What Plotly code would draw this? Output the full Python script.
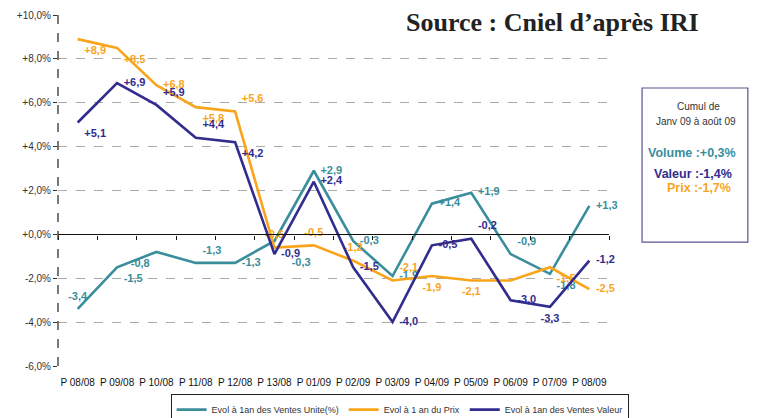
import plotly.graph_objects as go

categories = ["P 08/08", "P 09/08", "P 10/08", "P 11/08", "P 12/08", "P 13/08", "P 01/09",
              "P 02/09", "P 03/09", "P 04/09", "P 05/09", "P 06/09", "P 07/09", "P 08/09"]
unite = [-3.4, -1.5, -0.8, -1.3, -1.3, -0.3, 2.9, -0.3, -1.9, 1.4, 1.9, -0.9, -1.8, 1.3]
prix = [8.9, 8.5, 6.8, 5.8, 5.6, -0.6, -0.5, -1.2, -2.1, -1.9, -2.1, -2.1, -1.5, -2.5]
valeur = [5.1, 6.9, 5.9, 4.4, 4.2, -0.9, 2.4, -1.5, -4.0, -0.5, -0.2, -3.0, -3.3, -1.2]
y_ticks = [-6, -4, -2, 0, 2, 4, 6, 8, 10]
series_names = ["Evol à 1an des Ventes Unite(%)", "Evol à 1 an du Prix", "Evol à 1an des Ventes Valeur"]

TEAL = "#3a8e9c"
ORANGE = "#f9a51c"
NAVY = "#312c8e"


def fmt(v):
    return f"{v:+.1f}".replace(".", ",")


def ytick(v):
    return f"{v:+.1f}%".replace(".", ",")


pos_unite = ["top center", "bottom right", "bottom left", "top right", "middle right", "bottom right",
             "middle right", "middle right", "middle right", "middle right", "middle right", "top right",
             "bottom right", "middle right"]
pos_prix = ["bottom right", "bottom right", "middle right", "bottom right", "top right", "top center",
            "top center", "top center", "top right", "bottom center", "bottom center", "bottom center",
            "bottom right", "middle right"]
pos_valeur = ["bottom right", "middle right", "top right", "top right", "bottom right", "middle right",
              "middle right", "middle right", "middle right", "middle right", "top right", "middle right",
              "bottom center", "middle right"]

# invisible marker sizes: they only control the label offset from each point
gap_unite = [9, 9, 9, 9, 9, 26, 9, 9, 9, 9, 9, 9, 9, 9]
gap_prix = [9] * 14
gap_valeur = [9] * 14

text_prix = [fmt(v) for v in prix]
text_prix[11] = ""

fig = go.Figure()
lab_font = dict(family="Liberation Sans, Arial", size=11, weight="bold")
series = [
    (unite, series_names[0], TEAL, [fmt(v) for v in unite], pos_unite, gap_unite),
    (prix, series_names[1], ORANGE, text_prix, pos_prix, gap_prix),
    (valeur, series_names[2], NAVY, [fmt(v) for v in valeur], pos_valeur, gap_valeur),
]
for vals, name, col, txt, pos, gap in series:
    fig.add_trace(go.Scatter(x=categories, y=vals, name=name, mode="lines+markers+text",
                             line=dict(color=col, width=2.6),
                             marker=dict(size=gap, color="rgba(0,0,0,0)", opacity=0,
                                         line=dict(width=0, color="rgba(0,0,0,0)")),
                             text=txt, textposition=pos,
                             textfont=dict(color=col, **lab_font), cliponaxis=False))
# invisible trace for the zero-crossing category axis (tick marks)
fig.add_trace(go.Scatter(x=categories, y=[None] * len(categories), xaxis="x2", showlegend=False,
                         hoverinfo="skip", mode="lines"))

zero_pos = (0 - y_ticks[0]) / (y_ticks[-1] - y_ticks[0])

# page body has an 8px default margin -> figure is 8px smaller and shifted
fig.update_layout(
    width=749, height=410,
    margin=dict(l=50, r=148, t=7, b=52, autoexpand=False),
    plot_bgcolor="white", paper_bgcolor="white",
    font=dict(family="Liberation Sans, Arial", color="#333"),
    xaxis=dict(type="category", categoryorder="array", categoryarray=categories,
               range=[-0.5, 13.5], showgrid=False, showline=False, ticks="",
               tickfont=dict(size=10, color="#111"), ticklabelstandoff=9),
    xaxis2=dict(type="category", categoryorder="array", categoryarray=categories,
                range=[-0.5, 13.5], overlaying="x", anchor="free", position=zero_pos,
                showline=True, linecolor="#111", linewidth=1.3, ticks="outside",
                tickson="boundaries", ticklen=4, tickcolor="#111", showticklabels=False,
                showgrid=False),
    yaxis=dict(range=[y_ticks[0], y_ticks[-1]], tickvals=y_ticks,
               ticktext=[ytick(v) for v in y_ticks], showgrid=True, gridcolor="#aaaaaa",
               griddash="dash", gridwidth=1, zeroline=False, ticks="outside", ticklen=4,
               tickcolor="#333", tickfont=dict(size=10, color="#333"), showline=False),
    legend=dict(orientation="h", x=0.62, xanchor="center", y=-0.08, yanchor="top",
                bordercolor="#222", borderwidth=1, font=dict(size=9, color="#333"),
                itemwidth=30, tracegroupgap=0),
    showlegend=True,
)

# dashed vertical axis line
fig.add_shape(type="line", xref="paper", yref="paper", x0=0, x1=0, y0=0, y1=1,
              line=dict(color="#222", width=1.2, dash="dash"))

# title
fig.add_annotation(text="<b>Source : Cniel d\u2019après IRI</b>", xref="paper", yref="paper",
                   x=0.898, y=(366 - 22) / 351, xanchor="center", yanchor="middle", showarrow=False,
                   font=dict(family="Liberation Serif, Times New Roman", size=26, color="#222"))

# side box
fig.add_shape(type="rect", xref="paper", yref="paper", x0=1.06, x1=1.252, y0=0.353, y1=0.792,
              line=dict(color="#5a5290", width=1.2), fillcolor="white")

box_items = [
    ("Cumul de", 698, 106, 10, "#333"),
    ("Janv 09 à août 09", 696, 121, 10, "#333"),
    ("<b>Volume :+0,3%</b>", 692, 153, 12.5, TEAL),
    ("<b>Valeur :-1,4%</b>", 693, 174, 12.5, NAVY),
    ("<b>Prix :-1,7%</b>", 699, 188, 12.5, ORANGE),
]
for txt, px, py, sz, col in box_items:
    fig.add_annotation(text=txt, xref="paper", yref="paper", x=(px - 58) / 551, y=(366 - py) / 351,
                       xanchor="center", yanchor="middle", showarrow=False,
                       font=dict(size=sz, color=col))

fig.write_html("out.html")
